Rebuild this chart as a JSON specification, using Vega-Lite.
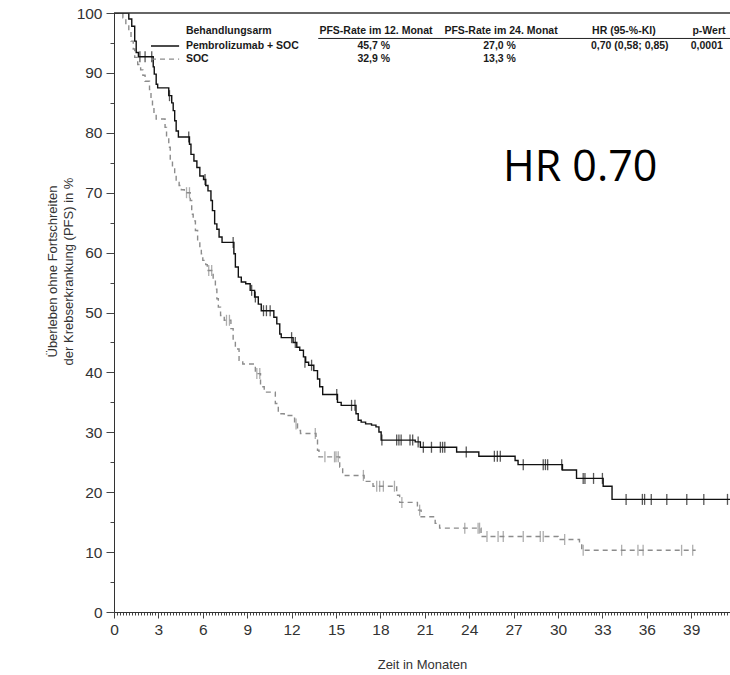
{
  "$schema": "https://vega.github.io/schema/vega-lite/v6.json",
  "width": 616,
  "height": 599,
  "autosize": "none",
  "padding": {"left": 114, "top": 13, "right": 0, "bottom": 63},
  "background": "white",
  "config": {"view": {"stroke": null}, "font": "Liberation Sans"},
  "datasets": {
    "curves": [
      {"arm": "SOC", "month": 0, "pfs": 100},
      {"arm": "SOC", "month": 0.6, "pfs": 99.2},
      {"arm": "SOC", "month": 0.8, "pfs": 98.1},
      {"arm": "SOC", "month": 1.0, "pfs": 97.0},
      {"arm": "SOC", "month": 1.15, "pfs": 95.3},
      {"arm": "SOC", "month": 1.3, "pfs": 94.0},
      {"arm": "SOC", "month": 1.4, "pfs": 92.6},
      {"arm": "SOC", "month": 1.6, "pfs": 91.4},
      {"arm": "SOC", "month": 1.8, "pfs": 90.5},
      {"arm": "SOC", "month": 1.95, "pfs": 89.6},
      {"arm": "SOC", "month": 2.1, "pfs": 88.6},
      {"arm": "SOC", "month": 2.4, "pfs": 87.2},
      {"arm": "SOC", "month": 2.5, "pfs": 85.5},
      {"arm": "SOC", "month": 2.6, "pfs": 84.4},
      {"arm": "SOC", "month": 2.7, "pfs": 83.1},
      {"arm": "SOC", "month": 2.85, "pfs": 82.3},
      {"arm": "SOC", "month": 3.45, "pfs": 80.9},
      {"arm": "SOC", "month": 3.55, "pfs": 79.2},
      {"arm": "SOC", "month": 3.7, "pfs": 77.6},
      {"arm": "SOC", "month": 3.8, "pfs": 75.3},
      {"arm": "SOC", "month": 3.95, "pfs": 74.2},
      {"arm": "SOC", "month": 4.1, "pfs": 73.1},
      {"arm": "SOC", "month": 4.2, "pfs": 71.7},
      {"arm": "SOC", "month": 4.4, "pfs": 71.2},
      {"arm": "SOC", "month": 4.55, "pfs": 70.5},
      {"arm": "SOC", "month": 4.75, "pfs": 70.0},
      {"arm": "SOC", "month": 5.15, "pfs": 68.7},
      {"arm": "SOC", "month": 5.25, "pfs": 66.4},
      {"arm": "SOC", "month": 5.35, "pfs": 65.3},
      {"arm": "SOC", "month": 5.5, "pfs": 63.7},
      {"arm": "SOC", "month": 5.65, "pfs": 62.0},
      {"arm": "SOC", "month": 5.8, "pfs": 60.9},
      {"arm": "SOC", "month": 5.9, "pfs": 59.8},
      {"arm": "SOC", "month": 6.0, "pfs": 58.7},
      {"arm": "SOC", "month": 6.2, "pfs": 58.0},
      {"arm": "SOC", "month": 6.3, "pfs": 57.0},
      {"arm": "SOC", "month": 6.7, "pfs": 55.5},
      {"arm": "SOC", "month": 6.85, "pfs": 53.9},
      {"arm": "SOC", "month": 6.95, "pfs": 52.3},
      {"arm": "SOC", "month": 7.05, "pfs": 50.9},
      {"arm": "SOC", "month": 7.2, "pfs": 49.5},
      {"arm": "SOC", "month": 7.45, "pfs": 48.7},
      {"arm": "SOC", "month": 7.9, "pfs": 47.3},
      {"arm": "SOC", "month": 8.05, "pfs": 45.3},
      {"arm": "SOC", "month": 8.2, "pfs": 43.9},
      {"arm": "SOC", "month": 8.45, "pfs": 42.0},
      {"arm": "SOC", "month": 8.7, "pfs": 41.4},
      {"arm": "SOC", "month": 9.55, "pfs": 39.8},
      {"arm": "SOC", "month": 9.9, "pfs": 37.6},
      {"arm": "SOC", "month": 10.15, "pfs": 36.7},
      {"arm": "SOC", "month": 10.9, "pfs": 34.8},
      {"arm": "SOC", "month": 11.1, "pfs": 33.1},
      {"arm": "SOC", "month": 11.5, "pfs": 32.8},
      {"arm": "SOC", "month": 12.2, "pfs": 31.4},
      {"arm": "SOC", "month": 12.4, "pfs": 30.3},
      {"arm": "SOC", "month": 12.6, "pfs": 29.8},
      {"arm": "SOC", "month": 13.65, "pfs": 28.7},
      {"arm": "SOC", "month": 13.75, "pfs": 27.0},
      {"arm": "SOC", "month": 13.85, "pfs": 25.9},
      {"arm": "SOC", "month": 15.25, "pfs": 24.2},
      {"arm": "SOC", "month": 15.45, "pfs": 22.8},
      {"arm": "SOC", "month": 16.9, "pfs": 21.8},
      {"arm": "SOC", "month": 17.5, "pfs": 21.0},
      {"arm": "SOC", "month": 19.1, "pfs": 19.5},
      {"arm": "SOC", "month": 19.3, "pfs": 18.3},
      {"arm": "SOC", "month": 20.5, "pfs": 17.0},
      {"arm": "SOC", "month": 20.75, "pfs": 15.9},
      {"arm": "SOC", "month": 21.7, "pfs": 14.8},
      {"arm": "SOC", "month": 22.0, "pfs": 14.0},
      {"arm": "SOC", "month": 24.8, "pfs": 12.6},
      {"arm": "SOC", "month": 30.0, "pfs": 12.1},
      {"arm": "SOC", "month": 31.45, "pfs": 11.4},
      {"arm": "SOC", "month": 31.6, "pfs": 10.3},
      {"arm": "SOC", "month": 39.3, "pfs": 10.3},
      {"arm": "Pembrolizumab + SOC", "month": 0, "pfs": 100},
      {"arm": "Pembrolizumab + SOC", "month": 1.0, "pfs": 99.0},
      {"arm": "Pembrolizumab + SOC", "month": 1.2, "pfs": 97.8},
      {"arm": "Pembrolizumab + SOC", "month": 1.4, "pfs": 95.3},
      {"arm": "Pembrolizumab + SOC", "month": 1.5, "pfs": 93.4},
      {"arm": "Pembrolizumab + SOC", "month": 1.65, "pfs": 92.7},
      {"arm": "Pembrolizumab + SOC", "month": 2.65, "pfs": 91.0},
      {"arm": "Pembrolizumab + SOC", "month": 2.72, "pfs": 89.8},
      {"arm": "Pembrolizumab + SOC", "month": 2.85, "pfs": 88.1},
      {"arm": "Pembrolizumab + SOC", "month": 2.95, "pfs": 87.5},
      {"arm": "Pembrolizumab + SOC", "month": 3.7, "pfs": 86.2},
      {"arm": "Pembrolizumab + SOC", "month": 3.9, "pfs": 85.0},
      {"arm": "Pembrolizumab + SOC", "month": 4.0, "pfs": 83.7},
      {"arm": "Pembrolizumab + SOC", "month": 4.1, "pfs": 82.0},
      {"arm": "Pembrolizumab + SOC", "month": 4.2, "pfs": 80.3},
      {"arm": "Pembrolizumab + SOC", "month": 4.35, "pfs": 79.3},
      {"arm": "Pembrolizumab + SOC", "month": 5.1, "pfs": 78.1},
      {"arm": "Pembrolizumab + SOC", "month": 5.2, "pfs": 76.4},
      {"arm": "Pembrolizumab + SOC", "month": 5.4, "pfs": 75.3},
      {"arm": "Pembrolizumab + SOC", "month": 5.6, "pfs": 74.2},
      {"arm": "Pembrolizumab + SOC", "month": 5.8, "pfs": 72.8},
      {"arm": "Pembrolizumab + SOC", "month": 6.05, "pfs": 72.2},
      {"arm": "Pembrolizumab + SOC", "month": 6.2, "pfs": 71.2},
      {"arm": "Pembrolizumab + SOC", "month": 6.35, "pfs": 70.3},
      {"arm": "Pembrolizumab + SOC", "month": 6.55, "pfs": 68.7},
      {"arm": "Pembrolizumab + SOC", "month": 6.65, "pfs": 67.0},
      {"arm": "Pembrolizumab + SOC", "month": 6.8, "pfs": 64.8},
      {"arm": "Pembrolizumab + SOC", "month": 6.95, "pfs": 63.9},
      {"arm": "Pembrolizumab + SOC", "month": 7.1, "pfs": 62.6},
      {"arm": "Pembrolizumab + SOC", "month": 7.3, "pfs": 61.7},
      {"arm": "Pembrolizumab + SOC", "month": 8.1, "pfs": 59.8},
      {"arm": "Pembrolizumab + SOC", "month": 8.2, "pfs": 57.6},
      {"arm": "Pembrolizumab + SOC", "month": 8.4, "pfs": 55.9},
      {"arm": "Pembrolizumab + SOC", "month": 8.6, "pfs": 55.1},
      {"arm": "Pembrolizumab + SOC", "month": 8.9, "pfs": 54.8},
      {"arm": "Pembrolizumab + SOC", "month": 9.2, "pfs": 53.7},
      {"arm": "Pembrolizumab + SOC", "month": 9.5, "pfs": 52.6},
      {"arm": "Pembrolizumab + SOC", "month": 9.75, "pfs": 51.4},
      {"arm": "Pembrolizumab + SOC", "month": 9.95, "pfs": 50.3},
      {"arm": "Pembrolizumab + SOC", "month": 10.8, "pfs": 49.2},
      {"arm": "Pembrolizumab + SOC", "month": 11.0, "pfs": 48.1},
      {"arm": "Pembrolizumab + SOC", "month": 11.2, "pfs": 46.4},
      {"arm": "Pembrolizumab + SOC", "month": 11.3, "pfs": 45.8},
      {"arm": "Pembrolizumab + SOC", "month": 12.1, "pfs": 45.0},
      {"arm": "Pembrolizumab + SOC", "month": 12.35, "pfs": 44.2},
      {"arm": "Pembrolizumab + SOC", "month": 12.55, "pfs": 43.7},
      {"arm": "Pembrolizumab + SOC", "month": 12.8, "pfs": 42.6},
      {"arm": "Pembrolizumab + SOC", "month": 12.95, "pfs": 41.7},
      {"arm": "Pembrolizumab + SOC", "month": 13.15, "pfs": 41.2},
      {"arm": "Pembrolizumab + SOC", "month": 13.5, "pfs": 40.3},
      {"arm": "Pembrolizumab + SOC", "month": 13.75, "pfs": 38.9},
      {"arm": "Pembrolizumab + SOC", "month": 13.9, "pfs": 37.6},
      {"arm": "Pembrolizumab + SOC", "month": 14.1, "pfs": 36.3},
      {"arm": "Pembrolizumab + SOC", "month": 15.1, "pfs": 35.0},
      {"arm": "Pembrolizumab + SOC", "month": 15.35, "pfs": 34.5},
      {"arm": "Pembrolizumab + SOC", "month": 16.35, "pfs": 33.1},
      {"arm": "Pembrolizumab + SOC", "month": 16.5, "pfs": 32.0},
      {"arm": "Pembrolizumab + SOC", "month": 16.7, "pfs": 31.7},
      {"arm": "Pembrolizumab + SOC", "month": 17.0, "pfs": 31.4},
      {"arm": "Pembrolizumab + SOC", "month": 17.4, "pfs": 31.2},
      {"arm": "Pembrolizumab + SOC", "month": 17.7, "pfs": 30.9},
      {"arm": "Pembrolizumab + SOC", "month": 17.9, "pfs": 30.05},
      {"arm": "Pembrolizumab + SOC", "month": 18.05, "pfs": 28.7},
      {"arm": "Pembrolizumab + SOC", "month": 20.35, "pfs": 28.4},
      {"arm": "Pembrolizumab + SOC", "month": 20.7, "pfs": 27.5},
      {"arm": "Pembrolizumab + SOC", "month": 23.15, "pfs": 26.7},
      {"arm": "Pembrolizumab + SOC", "month": 24.65, "pfs": 26.0},
      {"arm": "Pembrolizumab + SOC", "month": 27.1, "pfs": 25.3},
      {"arm": "Pembrolizumab + SOC", "month": 27.3, "pfs": 24.6},
      {"arm": "Pembrolizumab + SOC", "month": 30.3, "pfs": 23.7},
      {"arm": "Pembrolizumab + SOC", "month": 31.25, "pfs": 22.3},
      {"arm": "Pembrolizumab + SOC", "month": 33.05, "pfs": 21.0},
      {"arm": "Pembrolizumab + SOC", "month": 33.65, "pfs": 18.8},
      {"arm": "Pembrolizumab + SOC", "month": 41.62, "pfs": 18.8}
    ],
    "censored": [
      {"arm": "SOC", "month": 4.9, "pfs": 70.0},
      {"arm": "SOC", "month": 5.1, "pfs": 70.0},
      {"arm": "SOC", "month": 6.4, "pfs": 57.0},
      {"arm": "SOC", "month": 6.6, "pfs": 57.0},
      {"arm": "SOC", "month": 7.6, "pfs": 48.7},
      {"arm": "SOC", "month": 7.8, "pfs": 48.7},
      {"arm": "SOC", "month": 9.65, "pfs": 39.8},
      {"arm": "SOC", "month": 9.85, "pfs": 39.8},
      {"arm": "SOC", "month": 12.3, "pfs": 31.4},
      {"arm": "SOC", "month": 13.6, "pfs": 29.8},
      {"arm": "SOC", "month": 14.25, "pfs": 25.9},
      {"arm": "SOC", "month": 14.9, "pfs": 25.9},
      {"arm": "SOC", "month": 15.0, "pfs": 25.9},
      {"arm": "SOC", "month": 15.15, "pfs": 25.9},
      {"arm": "SOC", "month": 16.85, "pfs": 22.8},
      {"arm": "SOC", "month": 17.75, "pfs": 21.0},
      {"arm": "SOC", "month": 17.95, "pfs": 21.0},
      {"arm": "SOC", "month": 18.2, "pfs": 21.0},
      {"arm": "SOC", "month": 18.95, "pfs": 21.0},
      {"arm": "SOC", "month": 19.45, "pfs": 18.3},
      {"arm": "SOC", "month": 20.65, "pfs": 17.0},
      {"arm": "SOC", "month": 23.7, "pfs": 14.0},
      {"arm": "SOC", "month": 24.6, "pfs": 14.0},
      {"arm": "SOC", "month": 24.7, "pfs": 14.0},
      {"arm": "SOC", "month": 25.2, "pfs": 12.6},
      {"arm": "SOC", "month": 25.95, "pfs": 12.6},
      {"arm": "SOC", "month": 26.3, "pfs": 12.6},
      {"arm": "SOC", "month": 27.65, "pfs": 12.6},
      {"arm": "SOC", "month": 28.8, "pfs": 12.6},
      {"arm": "SOC", "month": 29.0, "pfs": 12.6},
      {"arm": "SOC", "month": 30.45, "pfs": 12.1},
      {"arm": "SOC", "month": 31.7, "pfs": 10.3},
      {"arm": "SOC", "month": 34.3, "pfs": 10.3},
      {"arm": "SOC", "month": 35.4, "pfs": 10.3},
      {"arm": "SOC", "month": 35.75, "pfs": 10.3},
      {"arm": "SOC", "month": 38.35, "pfs": 10.3},
      {"arm": "SOC", "month": 39.1, "pfs": 10.3},
      {"arm": "Pembrolizumab + SOC", "month": 1.75, "pfs": 92.7},
      {"arm": "Pembrolizumab + SOC", "month": 2.1, "pfs": 92.7},
      {"arm": "Pembrolizumab + SOC", "month": 2.55, "pfs": 92.7},
      {"arm": "Pembrolizumab + SOC", "month": 3.75, "pfs": 86.2},
      {"arm": "Pembrolizumab + SOC", "month": 5.05, "pfs": 79.3},
      {"arm": "Pembrolizumab + SOC", "month": 6.15, "pfs": 72.2},
      {"arm": "Pembrolizumab + SOC", "month": 8.05, "pfs": 61.7},
      {"arm": "Pembrolizumab + SOC", "month": 9.3, "pfs": 53.7},
      {"arm": "Pembrolizumab + SOC", "month": 9.55, "pfs": 52.6},
      {"arm": "Pembrolizumab + SOC", "month": 10.1, "pfs": 50.3},
      {"arm": "Pembrolizumab + SOC", "month": 10.3, "pfs": 50.3},
      {"arm": "Pembrolizumab + SOC", "month": 10.55, "pfs": 50.3},
      {"arm": "Pembrolizumab + SOC", "month": 12.0, "pfs": 45.8},
      {"arm": "Pembrolizumab + SOC", "month": 12.25, "pfs": 45.0},
      {"arm": "Pembrolizumab + SOC", "month": 12.9, "pfs": 41.7},
      {"arm": "Pembrolizumab + SOC", "month": 13.35, "pfs": 41.2},
      {"arm": "Pembrolizumab + SOC", "month": 15.05, "pfs": 36.3},
      {"arm": "Pembrolizumab + SOC", "month": 16.05, "pfs": 34.5},
      {"arm": "Pembrolizumab + SOC", "month": 16.28, "pfs": 34.5},
      {"arm": "Pembrolizumab + SOC", "month": 18.1, "pfs": 28.7},
      {"arm": "Pembrolizumab + SOC", "month": 19.1, "pfs": 28.7},
      {"arm": "Pembrolizumab + SOC", "month": 19.25, "pfs": 28.7},
      {"arm": "Pembrolizumab + SOC", "month": 19.4, "pfs": 28.7},
      {"arm": "Pembrolizumab + SOC", "month": 20.0, "pfs": 28.7},
      {"arm": "Pembrolizumab + SOC", "month": 20.18, "pfs": 28.7},
      {"arm": "Pembrolizumab + SOC", "month": 20.55, "pfs": 28.4},
      {"arm": "Pembrolizumab + SOC", "month": 20.9, "pfs": 27.5},
      {"arm": "Pembrolizumab + SOC", "month": 21.45, "pfs": 27.5},
      {"arm": "Pembrolizumab + SOC", "month": 22.05, "pfs": 27.5},
      {"arm": "Pembrolizumab + SOC", "month": 22.2, "pfs": 27.5},
      {"arm": "Pembrolizumab + SOC", "month": 22.35, "pfs": 27.5},
      {"arm": "Pembrolizumab + SOC", "month": 23.8, "pfs": 26.7},
      {"arm": "Pembrolizumab + SOC", "month": 25.7, "pfs": 26.0},
      {"arm": "Pembrolizumab + SOC", "month": 25.9, "pfs": 26.0},
      {"arm": "Pembrolizumab + SOC", "month": 26.1, "pfs": 26.0},
      {"arm": "Pembrolizumab + SOC", "month": 27.65, "pfs": 24.6},
      {"arm": "Pembrolizumab + SOC", "month": 29.0, "pfs": 24.6},
      {"arm": "Pembrolizumab + SOC", "month": 29.15, "pfs": 24.6},
      {"arm": "Pembrolizumab + SOC", "month": 29.3, "pfs": 24.6},
      {"arm": "Pembrolizumab + SOC", "month": 30.25, "pfs": 24.6},
      {"arm": "Pembrolizumab + SOC", "month": 31.7, "pfs": 22.3},
      {"arm": "Pembrolizumab + SOC", "month": 31.82, "pfs": 22.3},
      {"arm": "Pembrolizumab + SOC", "month": 32.4, "pfs": 22.3},
      {"arm": "Pembrolizumab + SOC", "month": 33.0, "pfs": 22.3},
      {"arm": "Pembrolizumab + SOC", "month": 34.6, "pfs": 18.8},
      {"arm": "Pembrolizumab + SOC", "month": 35.7, "pfs": 18.8},
      {"arm": "Pembrolizumab + SOC", "month": 35.85, "pfs": 18.8},
      {"arm": "Pembrolizumab + SOC", "month": 36.3, "pfs": 18.8},
      {"arm": "Pembrolizumab + SOC", "month": 37.35, "pfs": 18.8},
      {"arm": "Pembrolizumab + SOC", "month": 38.7, "pfs": 18.8},
      {"arm": "Pembrolizumab + SOC", "month": 39.85, "pfs": 18.8},
      {"arm": "Pembrolizumab + SOC", "month": 41.45, "pfs": 18.8}
    ],
    "tableLeft": [
      {"month": 4.86, "pfs": 97.0, "label": "Behandlungsarm"},
      {"month": 4.86, "pfs": 94.5, "label": "Pembrolizumab + SOC"},
      {"month": 4.86, "pfs": 92.3, "label": "SOC"}
    ],
    "tableCenter": [
      {"month": 17.7, "pfs": 97.0, "label": "PFS-Rate im 12. Monat"},
      {"month": 26.15, "pfs": 97.0, "label": "PFS-Rate im 24. Monat"},
      {"month": 34.45, "pfs": 97.0, "label": "HR (95-%-KI)"},
      {"month": 40.2, "pfs": 97.0, "label": "p-Wert"},
      {"month": 17.55, "pfs": 94.5, "label": "45,7 %"},
      {"month": 26.05, "pfs": 94.5, "label": "27,0 %"},
      {"month": 34.85, "pfs": 94.5, "label": "0,70 (0,58; 0,85)"},
      {"month": 40.05, "pfs": 94.5, "label": "0,0001"},
      {"month": 17.55, "pfs": 92.3, "label": "32,9 %"},
      {"month": 26.05, "pfs": 92.3, "label": "13,3 %"}
    ],
    "underline": [
      {"month": 13.8, "month2": 41.62, "pfs": 95.75}
    ],
    "legendLines": [
      {"arm": "Pembrolizumab + SOC", "month": 2.5, "month2": 4.4, "pfs": 94.5},
      {"arm": "SOC", "month": 2.5, "month2": 4.4, "pfs": 92.3}
    ],
    "annot": [
      {"month": 26.28, "pfs": 72.0, "label": "HR 0.70"}
    ],
    "frame": [
      {"pfs": 100}
    ]
  },
  "layer": [
    {
      "data": {"name": "curves"},
      "mark": {"type": "line", "interpolate": "step-after", "strokeWidth": 1.4, "clip": true},
      "encoding": {
        "x": {
          "field": "month", "type": "quantitative",
          "scale": {"domain": [0, 41.62], "nice": false, "zero": false},
          "axis": {
            "title": "Zeit in Monaten",
            "values": [0,0.2,0.4,0.6,0.8,1,1.2,1.4,1.6,1.8,2,2.2,2.4,2.6,2.8,3,3.2,3.4,3.6,3.8,4,4.2,4.4,4.6,4.8,5,5.2,5.4,5.6,5.8,6,6.2,6.4,6.6,6.8,7,7.2,7.4,7.6,7.8,8,8.2,8.4,8.6,8.8,9,9.2,9.4,9.6,9.8,10,10.2,10.4,10.6,10.8,11,11.2,11.4,11.6,11.8,12,12.2,12.4,12.6,12.8,13,13.2,13.4,13.6,13.8,14,14.2,14.4,14.6,14.8,15,15.2,15.4,15.6,15.8,16,16.2,16.4,16.6,16.8,17,17.2,17.4,17.6,17.8,18,18.2,18.4,18.6,18.8,19,19.2,19.4,19.6,19.8,20,20.2,20.4,20.6,20.8,21,21.2,21.4,21.6,21.8,22,22.2,22.4,22.6,22.8,23,23.2,23.4,23.6,23.8,24,24.2,24.4,24.6,24.8,25,25.2,25.4,25.6,25.8,26,26.2,26.4,26.6,26.8,27,27.2,27.4,27.6,27.8,28,28.2,28.4,28.6,28.8,29,29.2,29.4,29.6,29.8,30,30.2,30.4,30.6,30.8,31,31.2,31.4,31.6,31.8,32,32.2,32.4,32.6,32.8,33,33.2,33.4,33.6,33.8,34,34.2,34.4,34.6,34.8,35,35.2,35.4,35.6,35.8,36,36.2,36.4,36.6,36.8,37,37.2,37.4,37.6,37.8,38,38.2,38.4,38.6,38.8,39,39.2,39.4,39.6,39.8,40,40.2,40.4,40.6,40.8,41,41.2,41.4,41.6],
            "tickCount": 400,
            "labelExpr": "abs(datum.value / 3 - round(datum.value / 3)) < 0.01 ? format(round(datum.value), 'd') : ''",
            "tickSize": {"condition": {"test": "abs(datum.value / 3 - round(datum.value / 3)) < 0.01", "value": 6}, "value": 3},
            "labelOverlap": false,
            "labelFlush": false,
            "labelBound": false,
            "labelPadding": 4,
            "labelFontSize": 15.5,
            "labelColor": "#333",
            "tickColor": "#444",
            "domainColor": "#333",
            "grid": false,
            "titleFontSize": 13,
            "titleFontWeight": "normal",
            "titleColor": "#333",
            "titleBaseline": "middle",
            "titleY": 52
          }
        },
        "y": {
          "field": "pfs", "type": "quantitative",
          "scale": {"domain": [0, 100], "nice": false},
          "axis": {
            "title": ["Überleben ohne Fortschreiten", "der Krebserkrankung (PFS) in %"],
            "values": [0,5,10,15,20,25,30,35,40,45,50,55,60,65,70,75,80,85,90,95,100],
            "tickCount": 100,
            "labelExpr": "datum.value % 10 === 0 ? format(datum.value, 'd') : ''",
            "tickSize": {"condition": {"test": "datum.value % 10 === 0", "value": 8}, "value": 4},
            "labelOverlap": false,
            "labelBound": false,
            "labelPadding": 4,
            "labelFontSize": 15.5,
            "labelColor": "#333",
            "tickColor": "#444",
            "domainColor": "#333",
            "grid": false,
            "titleFontSize": 13,
            "titleFontWeight": "normal",
            "titleColor": "#333",
            "titleLineHeight": 16,
            "titleBaseline": "middle",
            "titleAlign": "center",
            "titleAngle": -90,
            "titleX": -62,
            "titleY": 258
          }
        },
        "color": {
          "field": "arm", "type": "nominal",
          "scale": {"domain": ["Pembrolizumab + SOC", "SOC"], "range": ["#111111", "#8c8c8c"]},
          "legend": null
        },
        "strokeDash": {
          "field": "arm", "type": "nominal",
          "scale": {"domain": ["Pembrolizumab + SOC", "SOC"], "range": [[1, 0], [5, 4]]},
          "legend": null
        }
      }
    },
    {
      "data": {"name": "censored"},
      "mark": {"type": "tick", "orient": "vertical", "size": 11, "thickness": 1.3},
      "encoding": {
        "x": {"field": "month", "type": "quantitative"},
        "y": {"field": "pfs", "type": "quantitative"},
        "color": {"field": "arm", "type": "nominal", "legend": null}
      }
    },
    {
      "data": {"name": "tableLeft"},
      "mark": {"type": "text", "align": "left", "baseline": "middle", "fontSize": 10.5, "fontWeight": "bold", "color": "#1a1a1a"},
      "encoding": {
        "x": {"field": "month", "type": "quantitative"},
        "y": {"field": "pfs", "type": "quantitative"},
        "text": {"field": "label"}
      }
    },
    {
      "data": {"name": "tableCenter"},
      "mark": {"type": "text", "align": "center", "baseline": "middle", "fontSize": 10.5, "fontWeight": "bold", "color": "#1a1a1a"},
      "encoding": {
        "x": {"field": "month", "type": "quantitative"},
        "y": {"field": "pfs", "type": "quantitative"},
        "text": {"field": "label"}
      }
    },
    {
      "data": {"name": "underline"},
      "mark": {"type": "rule", "color": "#222", "strokeWidth": 1},
      "encoding": {
        "x": {"field": "month", "type": "quantitative"},
        "x2": {"field": "month2"},
        "y": {"field": "pfs", "type": "quantitative"}
      }
    },
    {
      "data": {"name": "legendLines"},
      "mark": {"type": "rule", "strokeWidth": 1.4},
      "encoding": {
        "x": {"field": "month", "type": "quantitative"},
        "x2": {"field": "month2"},
        "y": {"field": "pfs", "type": "quantitative"},
        "color": {"field": "arm", "type": "nominal", "legend": null},
        "strokeDash": {"field": "arm", "type": "nominal", "legend": null}
      }
    },
    {
      "data": {"name": "annot"},
      "mark": {"type": "text", "align": "left", "baseline": "alphabetic", "fontSize": 43, "font": "Open Sans", "color": "#000"},
      "encoding": {
        "x": {"field": "month", "type": "quantitative"},
        "y": {"field": "pfs", "type": "quantitative"},
        "text": {"field": "label"}
      }
    },
    {
      "data": {"name": "frame"},
      "mark": {"type": "rule", "color": "#333", "strokeWidth": 1.5},
      "encoding": {
        "y": {"field": "pfs", "type": "quantitative"}
      }
    }
  ]
}
